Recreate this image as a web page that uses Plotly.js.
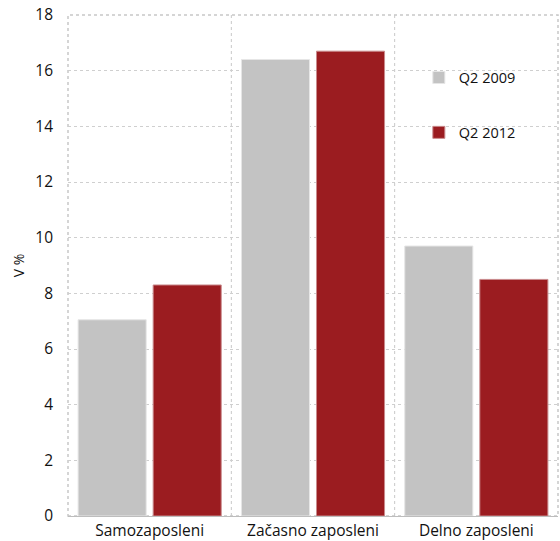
<!DOCTYPE html>
<html><head><meta charset="utf-8">
<script src="https://cdn.plot.ly/plotly-3.0.1.min.js"></script>
<style>body{margin:0;}#chart{width:560px;height:541px;}</style>
</head><body><div id="chart"></div>
<script>
const categories = ["Samozaposleni", "Začasno zaposleni", "Delno zaposleni"];
const seriesNames = ["Q2 2009", "Q2 2012"];
const q2_2009 = [7.05, 16.4, 9.7];
const q2_2012 = [8.3, 16.7, 8.5];
const yTicks = [0, 2, 4, 6, 8, 10, 12, 14, 16, 18];

const FONT = "Open Sans, Lato, sans-serif";
const traces = [
  {type: 'bar', name: seriesNames[0], x: categories, y: q2_2009, legendgroup: 'a',
   marker: {color: '#c3c3c3', line: {color: '#e6e6e6', width: 1}}},
  {type: 'bar', name: seriesNames[1], x: categories, y: q2_2012, legendgroup: 'b',
   marker: {color: '#9b1c20', line: {color: '#c98a8c', width: 1}}}
];
const seps = [0.5, 1.5].map(v => ({type: 'line', xref: 'x', yref: 'paper', x0: v, x1: v, y0: 0, y1: 1,
  line: {color: '#c8c8c8', width: 1, dash: 'dot'}, layer: 'below'}));
const layout = {
  width: 560, height: 541,
  margin: {l: 68, r: 2, t: 15, b: 25},
  paper_bgcolor: '#fff', plot_bgcolor: '#fff',
  font: {family: FONT, size: 14, color: '#111'},
  barmode: 'group', bargap: 0.081, bargroupgap: 0.093,
  showlegend: true,
  legend: {x: 0.716, y: 0.907, xanchor: 'left', yanchor: 'top', bgcolor: 'rgba(0,0,0,0)',
    traceorder: 'grouped', tracegroupgap: 33, itemwidth: 30, font: {size: 14.5}},
  xaxis: {type: 'category', showgrid: false, showline: true, linecolor: '#bdbdbd', linewidth: 1,
    ticks: '', tickfont: {size: 15.5}, mirror: false, range: [-0.5, 2.5]},
  yaxis: {range: [0, 18], tickvals: yTicks, ticktext: yTicks.map(String), showgrid: true,
    gridcolor: '#cfcfcf', griddash: 'dot', gridwidth: 1, zeroline: false,
    showline: false, ticks: '', ticklabelstandoff: 14, tickfont: {size: 15.5},
    title: {text: 'V %', font: {size: 14}, standoff: 7}},
  shapes: seps.concat([
    {type: 'rect', xref: 'paper', yref: 'paper', x0: 0, x1: 1, y0: 0, y1: 1,
     line: {color: '#c8c8c8', width: 1.5, dash: 'dot'}, layer: 'below'}
  ])
};
Plotly.newPlot('chart', traces, layout, {displayModeBar: false});
</script></body></html>
